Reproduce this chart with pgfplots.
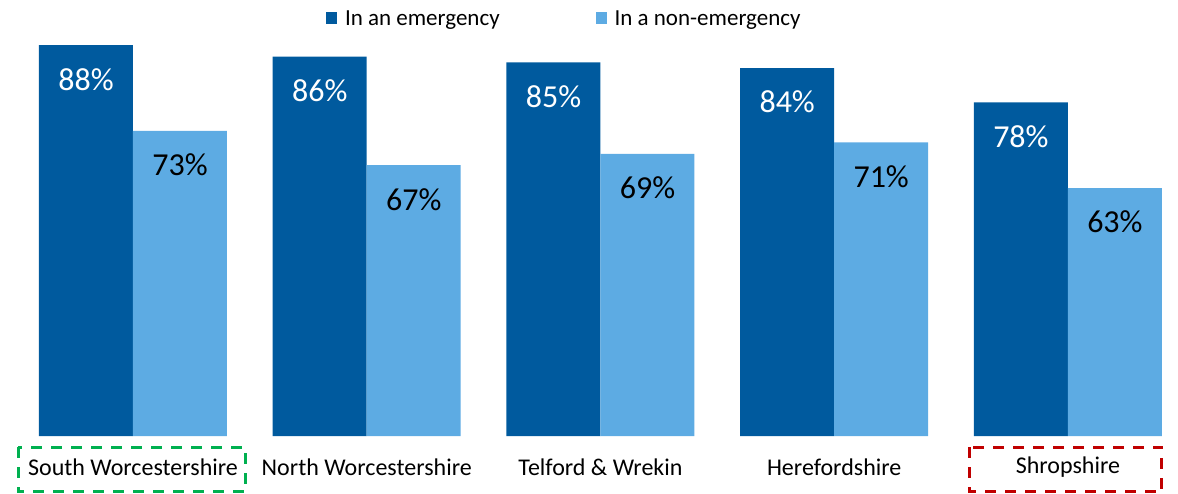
\documentclass[border=0pt]{standalone}
\usepackage{fontspec}
\setmainfont{Carlito}
\usepackage{pgfplots}
\pgfplotsset{compat=1.18}
\definecolor{darkb}{RGB}{0,90,158}
\definecolor{lightb}{RGB}{93,171,227}
\definecolor{boxgreen}{RGB}{0,176,80}
\definecolor{boxred}{RGB}{192,0,0}
\begin{document}
\begin{tikzpicture}
\begin{axis}[
  scale only axis, width=1178pt, height=436pt,
  xmin=-0.569, xmax=4.471, ymin=19.6, ymax=95.9,
  ybar=0pt, bar width=94pt,
  axis line style={draw=none}, ytick=\empty,
  xtick={0,...,4},
  xticklabels={South Worcestershire, North Worcestershire, Telford \& Wrekin, Herefordshire, Shropshire},
  major tick length=0pt,
  xticklabel style={font=\fontsize{24}{28}\selectfont, anchor=center, yshift=-31pt},
  clip=false,
  /pgf/number format/assume math mode=true,
  nodes near coords={\pgfmathprintnumber{\pgfplotspointmeta}\%},
  every node near coord/.append style={font=\fontsize{32}{36}\selectfont, anchor=center, yshift=-34pt},
  legend style={draw=none, at={(axis description cs:0.479,0.958)}, anchor=center,
    font=\fontsize{23}{27}\selectfont, legend columns=2,
    /tikz/every even column/.append style={column sep=94pt}},
  legend image code/.code={\fill[#1] (0pt,-6pt) rectangle (11pt,6pt); \path (17pt,0pt);},
]
% emergency
\addplot[fill=darkb, draw=none, every node near coord/.append style={text=white}]
  coordinates {(0,88) (1,86) (2,85) (3,84) (4,78)};
% non-emergency
\addplot[fill=lightb, draw=none, every node near coord/.append style={text=black}]
  coordinates {(0,73) (1,67) (2,69) (3,71) (4,63)};
\legend{In an emergency, In a non-emergency}
\draw[boxgreen, line width=3pt, dash pattern=on 11pt off 9pt]
  (axis description cs:0.0153,-0.0252) rectangle (axis description cs:0.208,-0.128);
\draw[boxred, line width=3pt, dash pattern=on 11pt off 9pt]
  (axis description cs:0.8234,-0.0252) rectangle (axis description cs:0.9864,-0.128);
\end{axis}
\end{tikzpicture}
\end{document}
